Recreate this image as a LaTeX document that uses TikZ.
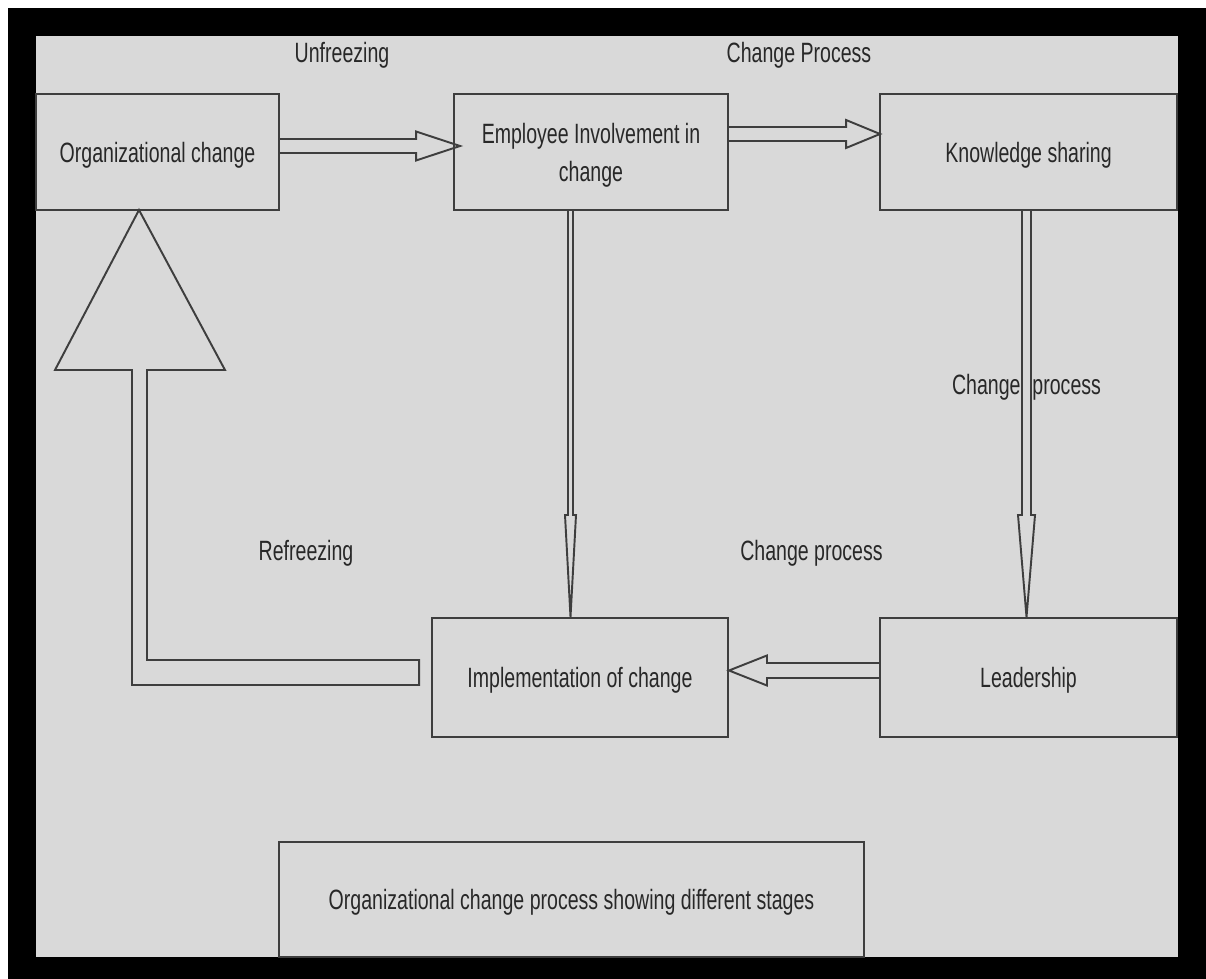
\documentclass[tikz,border=0pt]{standalone}
\usepackage{fontspec}
\setmainfont{Liberation Sans}[FakeStretch=0.7]
\usetikzlibrary{calc}
\definecolor{bggray}{RGB}{217,217,217}
\definecolor{ink}{RGB}{62,62,62}
\definecolor{txt}{RGB}{40,40,40}
% hollow double-line arrow from #1 to #2: shaft half-width #3, head half-width #4, head length #5
\newcommand{\hollowarrow}[5]{%
  \path ($#2!#5!#1$) coordinate (hb);
  \draw[harrow] ($#1!#3!90:#2$) -- ($(hb)!#3!90:#2$) -- ($(hb)!#4!90:#2$) -- #2
     -- ($(hb)!#4!-90:#2$) -- ($(hb)!#3!-90:#2$) -- ($#1!#3!-90:#2$);
}
\tikzset{
  box/.style={draw=ink, line width=1.1pt, inner sep=0pt, outer sep=0pt,
    text=txt, font=\fontsize{15.9pt}{21.5pt}\selectfont, align=center, text depth=0pt},
  lab/.style={text=txt, font=\fontsize{15.9pt}{21.5pt}\selectfont, inner sep=0pt, anchor=base},
  harrow/.style={draw=ink, line width=1.1pt, line join=miter},
}
\begin{document}
\begin{tikzpicture}[x=0.02cm, y=-0.02cm]
% frame
\fill[white] (0,0) rectangle (1206,979);
\fill[black] (8,8) rectangle (1206,979);
\fill[bggray] (36,36) rectangle (1178,957);

% boxes
\node[box, minimum width=4.86cm, minimum height=2.32cm] (org) at (157.5,152) {Organizational change};
\node[box, minimum width=5.48cm, minimum height=2.32cm] (emp) at (591,152) {Employee Involvement in\\change};
\node[box, minimum width=5.94cm, minimum height=2.32cm] (know) at (1028.5,152) {Knowledge sharing};
\node[box, minimum width=5.92cm, minimum height=2.38cm] (impl) at (580,677.5) {Implementation of change};
\node[box, minimum width=5.94cm, minimum height=2.38cm] (lead) at (1028.5,677.5) {Leadership};
\node[box, minimum width=11.7cm, minimum height=2.3cm] (cap) at (571.5,899.5) {Organizational change process showing different stages};

% connector end points
\coordinate (a1) at ($(org.east)+(0,-6)$);
\coordinate (a2) at ($(emp.west)+(6,-6)$);
\coordinate (b1) at ($(emp.east)+(0,-18)$);
\coordinate (b2) at ($(know.west)+(0,-18)$);
\coordinate (c1) at ($(emp.south)+(-20.5,0)$);
\coordinate (c2) at ($(impl.north)+(-9.5,-1)$);
\coordinate (d1) at ($(know.south)+(-2,0)$);
\coordinate (d2) at ($(lead.north)+(-2,-1)$);
\coordinate (e1) at ($(lead.west)+(0,-7)$);
\coordinate (e2) at ($(impl.east)+(1,-7)$);

\hollowarrow{(a1)}{(a2)}{0.14cm}{0.29cm}{0.88cm}
\hollowarrow{(b1)}{(b2)}{0.14cm}{0.28cm}{0.68cm}
\hollowarrow{(c1)}{(c2)}{0.05cm}{0.11cm}{2.04cm}
\hollowarrow{(d1)}{(d2)}{0.09cm}{0.17cm}{2.04cm}
\hollowarrow{(e1)}{(e2)}{0.15cm}{0.30cm}{0.76cm}

% refreezing arrow
\coordinate (rf1) at ($(impl.west)+(-13,-17.5)$);
\coordinate (rf2) at ($(impl.west)+(-13,7.5)$);
\coordinate (apex) at ($(org.south)+(-18.5,0)$);
\draw[harrow] (rf1) -- (147,660) -- (147,370) -- (225,370) -- (apex)
  -- (55,370) -- (132,370) -- (132,685) -- (rf2) -- cycle;

% labels
\node[lab] (lunf) at (342,63) {Unfreezing};
\node[lab] (lcp1) at (799,63) {Change Process};
\node[lab] (lcp2) at (1026.5,395) {Change\hspace{3.7pt} process};
\node[lab] (lref) at (306,560) {Refreezing};
\node[lab] (lcp3) at (811.5,560) {Change process};
\end{tikzpicture}
\end{document}
